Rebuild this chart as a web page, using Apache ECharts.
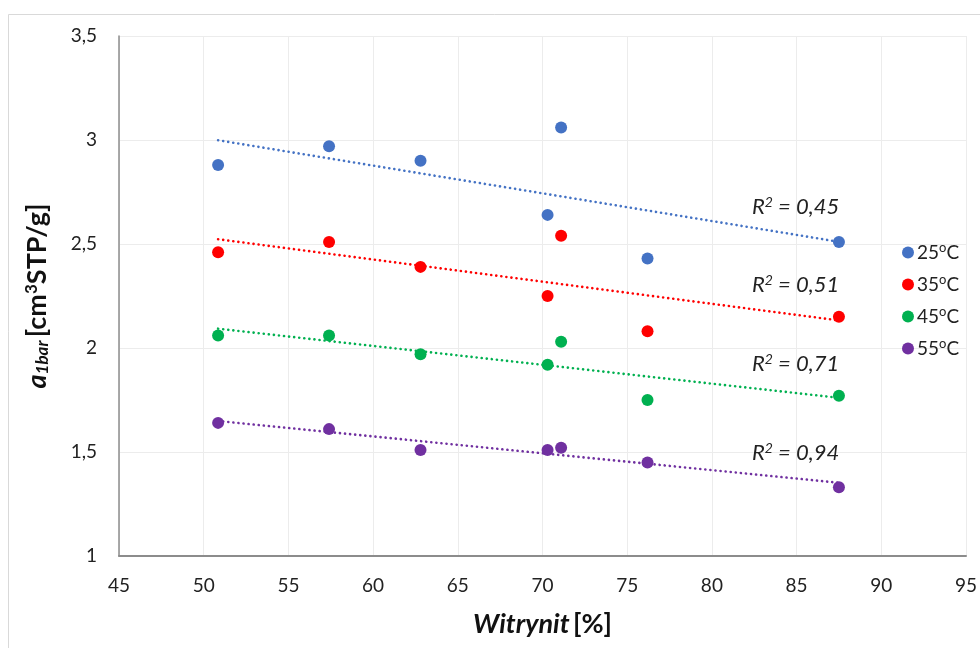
<!DOCTYPE html>
<html>
<head>
<meta charset="utf-8">
<script src="https://cdn.jsdelivr.net/npm/echarts@6/dist/echarts.min.js"></script>
<style>html,body{margin:0;padding:0;background:#fff;}#c{width:980px;height:648px;}</style>
</head>
<body>
<div id="c"></div>
<script>
// Data
const witrynit = [50.85, 57.4, 62.8, 70.3, 71.1, 76.2, 87.5];
const s25 = [2.88, 2.97, 2.90, 2.64, 3.06, 2.43, 2.51];
const s35 = [2.46, 2.51, 2.39, 2.25, 2.54, 2.08, 2.15];
const s45 = [2.06, 2.06, 1.97, 1.92, 2.03, 1.75, 1.77];
const s55 = [1.64, 1.61, 1.51, 1.51, 1.52, 1.45, 1.33];
const seriesNames = ['25', '35', '45', '55'];
const r2Labels = ['0,45', '0,51', '0,71', '0,94'];
const colors = ['#4472C4', '#FF0000', '#00B050', '#7030A0'];
const FONT = 'Lato, "Open Sans", sans-serif';

const all = [s25, s35, s45, s55];

function fit(xs, ys) {
  const n = xs.length;
  const mx = xs.reduce((a, b) => a + b, 0) / n;
  const my = ys.reduce((a, b) => a + b, 0) / n;
  let sxy = 0, sxx = 0;
  for (let i = 0; i < n; i++) { sxy += (xs[i] - mx) * (ys[i] - my); sxx += (xs[i] - mx) ** 2; }
  const b = sxy / sxx, a = my - b * mx;
  const x0 = Math.min(...xs), x1 = Math.max(...xs);
  return [[x0, a + b * x0], [x1, a + b * x1]];
}

const series = [];
all.forEach((ys, i) => {
  series.push({
    name: seriesNames[i],
    type: 'line',
    data: fit(witrynit, ys),
    symbol: 'none',
    silent: true,
    lineStyle: { color: colors[i], width: 2.6, type: [0.1, 5], cap: 'round' },
    z: 1
  });
});
all.forEach((ys, i) => {
  series.push({
    name: seriesNames[i] + 'C',
    type: 'scatter',
    data: witrynit.map((x, j) => [x, ys[j]]),
    symbol: 'circle',
    symbolSize: 12,
    itemStyle: { color: colors[i], opacity: 1 },
    z: 3
  });
});

const chart = echarts.init(document.getElementById('c'));
chart.setOption({
  animation: false,
  backgroundColor: '#fff',
  color: colors,
  grid: { left: 119, right: 6, top: 36, bottom: 92 },
  legend: {
    data: seriesNames.map(n => ({ name: n + 'C', icon: 'circle' })),
    orient: 'vertical',
    left: 897,
    top: 236,
    itemWidth: 12,
    itemHeight: 12,
    itemGap: 11,
    formatter: function (n) { return '{n|' + n.replace('C', '') + '}{sup|o}{n|C}'; },
    textStyle: {
      fontFamily: FONT, fontSize: 19, color: '#222', padding: [0, 0, 0, -2],
      rich: {
        n: { fontFamily: FONT, fontSize: 19, color: '#222', lineHeight: 23, verticalAlign: 'middle' },
        sup: { fontFamily: FONT, fontSize: 13, color: '#222', lineHeight: 13, verticalAlign: 'top' }
      }
    }
  },
  xAxis: {
    type: 'value', min: 45, max: 95, interval: 5,
    name: '{i|Witrynit} {b|[%]}',
    nameLocation: 'middle', nameGap: 55,
    nameTextStyle: {
      rich: {
        i: { fontFamily: FONT, fontSize: 27, fontWeight: 'bold', fontStyle: 'italic', color: '#111' },
        b: { fontFamily: FONT, fontSize: 27, fontWeight: 'bold', color: '#111' }
      }
    },
    axisLine: { show: true, lineStyle: { color: '#8c8c8c', width: 2 } },
    axisTick: { show: false },
    axisLabel: { fontFamily: FONT, fontSize: 19, color: '#222', margin: 20 },
    splitLine: { show: true, lineStyle: { color: '#ececec', width: 1 } }
  },
  yAxis: {
    type: 'value', min: 1, max: 3.5, interval: 0.5,
    name: '{a|a}{sub|1bar} {b|[cm}{sup|3}{b|STP/g]}',
    nameLocation: 'middle', nameRotate: 90, nameGap: 68,
    nameTextStyle: {
      rich: {
        a: { fontFamily: FONT, fontSize: 27, fontWeight: 'bold', fontStyle: 'italic', color: '#111' },
        sub: { fontFamily: FONT, fontSize: 17, fontWeight: 'bold', fontStyle: 'italic', color: '#111', verticalAlign: 'bottom', padding: [9, 0, 0, 0] },
        b: { fontFamily: FONT, fontSize: 27, fontWeight: 'bold', color: '#111' },
        sup: { fontFamily: FONT, fontSize: 17, fontWeight: 'bold', color: '#111', verticalAlign: 'top', padding: [0, 0, 11, 0] }
      }
    },
    axisLine: { show: true, lineStyle: { color: '#8c8c8c', width: 1.5 } },
    axisTick: { show: false },
    axisLabel: { fontFamily: FONT, fontSize: 19, color: '#222', margin: 22,
      formatter: v => String(v).replace('.', ',') },
    splitLine: { show: true, lineStyle: { color: '#ececec', width: 1 } }
  },
  graphic: [
    { type: 'rect', shape: { x: 8.5, y: 14.5, width: 1000, height: 700 }, style: { fill: 'none', stroke: '#d9d9d9', lineWidth: 1 }, silent: true, z: -10 }
  ].concat(r2Labels.map((t, i) => ({
    type: 'text', left: 752, top: [195, 273, 352, 441][i],
    style: {
      text: '{r|R}{s|2}{r| = ' + t + '}',
      rich: {
        r: { fontFamily: FONT, fontSize: 22, fontStyle: 'italic', fill: '#222' },
        s: { fontFamily: FONT, fontSize: 14, fontStyle: 'italic', fill: '#222', verticalAlign: 'top', padding: [0, 0, 9, 0] }
      }
    },
    z: 10
  }))),
  series: series
});
</script>
</body>
</html>
